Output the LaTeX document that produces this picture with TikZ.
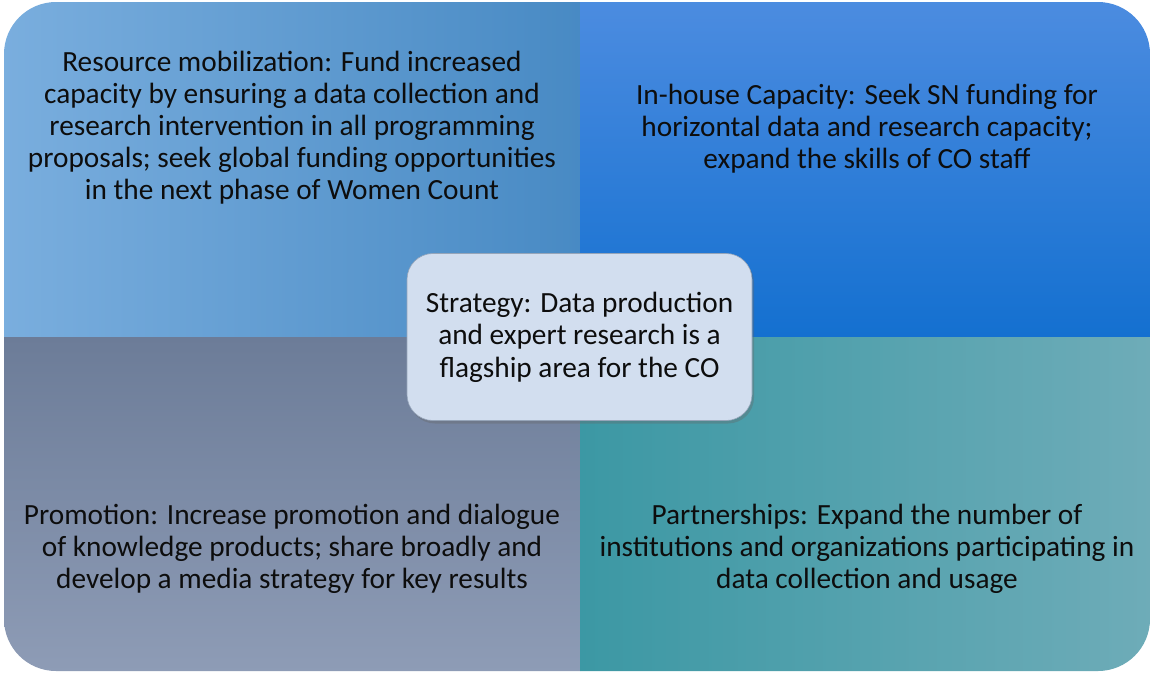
\documentclass[tikz,border=0pt]{standalone}
\usepackage{fontspec}
\setmainfont{Carlito}
\usetikzlibrary{shadows}
\definecolor{tlA}{RGB}{122,174,222}
\definecolor{tlB}{RGB}{72,138,196}
\definecolor{trA}{RGB}{76,140,224}
\definecolor{trB}{RGB}{20,112,208}
\definecolor{blA}{RGB}{108,124,152}
\definecolor{blB}{RGB}{142,156,182}
\definecolor{brA}{RGB}{60,152,164}
\definecolor{brB}{RGB}{110,172,184}
\definecolor{hubfill}{RGB}{210,222,239}
\definecolor{hubline}{RGB}{150,165,185}
\tikzset{
  quadtext/.style={align=center, font=\fontsize{29.3}{32}\selectfont, text=black!95, inner sep=0pt},
  hub/.style={rounded corners=26pt, fill=hubfill, draw=hubline, line width=0.6pt,
    minimum width=345pt, minimum height=167pt, align=center,
    font=\fontsize{29.3}{32.5}\selectfont, text=black!95,
    drop shadow={shadow xshift=2pt, shadow yshift=-3pt, opacity=0.35, fill=black!60}}
}
\begin{document}
\begin{tikzpicture}[x=1pt, y=-1pt]
  \useasboundingbox (0,0) rectangle (1151,673);
  % four shaded quadrants inside one rounded frame
  \begin{scope}
    \clip[rounded corners=52pt] (4,2) rectangle (1150,671);
    \shade[left color=tlA, right color=tlB] (0,0) rectangle (580,337);
    \shade[top color=trA, bottom color=trB] (580,0) rectangle (1151,337);
    \shade[top color=blA, bottom color=blB] (0,337) rectangle (580,673);
    \shade[left color=brA, right color=brB] (580,337) rectangle (1151,673);
  \end{scope}
  % quadrant texts
  \node[quadtext] (resource) at (292,128) {Resource mobilization: Fund increased\\capacity by ensuring a data collection and\\research intervention in all programming\\proposals; seek global funding opportunities\\in the next phase of Women Count};
  \node[quadtext] (inhouse) at (867,129) {In-house Capacity: Seek SN funding for\\horizontal data and research capacity;\\expand the skills of CO staff};
  \node[quadtext] (promotion) at (292,549) {Promotion: Increase promotion and dialogue\\of knowledge products; share broadly and\\develop a media strategy for key results};
  \node[quadtext] (partner) at (867,549) {Partnerships: Expand the number of\\institutions and organizations participating in\\data collection and usage};
  % central strategy box
  \node[hub] (strategy) at (579.5,337) {Strategy: Data production\\and expert research is a\\flagship area for the CO};
\end{tikzpicture}
\end{document}
